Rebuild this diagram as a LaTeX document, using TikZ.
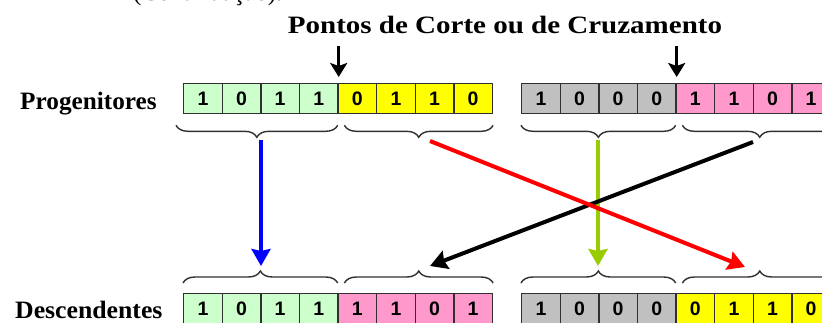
\documentclass[tikz,border=0pt]{standalone}
\usepackage{fontspec}
\setmainfont{Liberation Serif}
\newfontfamily\bitfont{Liberation Sans}
\usetikzlibrary{arrows.meta,decorations.pathreplacing}

\definecolor{cgreen}{HTML}{CCFFCC}
\definecolor{cyellow}{HTML}{FFFF00}
\definecolor{cgray}{HTML}{C0C0C0}
\definecolor{cpink}{HTML}{FF99CC}
\definecolor{lgreen}{HTML}{99CC00}
\definecolor{edge}{HTML}{303030}

\tikzset{
  bitcell/.style={draw=edge, line width=1.3pt, minimum width=38.6pt, minimum height=30pt,
    inner sep=0pt, anchor=north west, font=\bitfont\bfseries\fontsize{19.5}{19.5}\selectfont},
  rowlabel/.style={anchor=base west, inner sep=0pt, font=\bfseries\fontsize{25}{25}\selectfont},
  bracemark/.style={draw=edge, line width=1.4pt, decorate, decoration={brace, amplitude=12pt}},
  cutarrow/.style={line width=3.5pt, -{Stealth[width=17pt,length=14pt,inset=3pt]}},
  geneflow/.style={line width=4pt, -{Stealth[width=19pt,length=17pt,inset=2pt]}},
}

% one chromosome of eight genes: #1 name, #2 x, #3 y, #4 first colour, #5 second colour, #6/#7 bit lists
\newcommand{\chromosome}[7]{%
  \foreach \b [count=\i] in {#6} {
    \node[bitcell, fill=#4] (#1c\i) at ({#2+38.6*(\i-1)}, #3) {\b};
  }
  \foreach \b [count=\i from 5] in {#7} {
    \node[bitcell, fill=#5] (#1c\i) at ({#2+38.6*(\i-1)}, #3) {\b};
  }
}

\begin{document}
\begin{tikzpicture}[x=1pt, y=-1pt]
  \useasboundingbox (0,0) rectangle (822,322);
  \clip (0,0) rectangle (822,322);

  % caption carried over from the previous page
  \node[anchor=base west, inner sep=0pt, font=\fontsize{25}{25}\selectfont] (cont) at (133,0) {(Continuação).};

  % title and row labels
  \node[anchor=base, inner sep=0pt, font=\bfseries\fontsize{25}{25}\selectfont] (title) at (505,33)
    {\scalebox{1.16}[1]{Pontos de Corte ou de Cruzamento}};
  \node[rowlabel] (prog) at (20,109) {\scalebox{1.01}[1]{Progenitores}};
  \node[rowlabel] (desc) at (15,318) {\scalebox{1.03}[1]{Descendentes}};

  % parents
  \chromosome{pa}{183}{83}{cgreen}{cyellow}{1,0,1,1}{0,1,1,0}
  \chromosome{pb}{521}{83}{cgray}{cpink}{1,0,0,0}{1,1,0,1}
  % offspring
  \chromosome{da}{183}{293}{cgreen}{cpink}{1,0,1,1}{1,1,0,1}
  \chromosome{db}{521}{293}{cgray}{cyellow}{1,0,0,0}{0,1,1,0}

  % crossover points
  \coordinate (cutA) at ([yshift=37pt]pac4.north east);
  \coordinate (cutB) at ([yshift=37pt]pbc4.north east);
  \draw[cutarrow] (cutA) -- ([yshift=6pt]pac4.north east);
  \draw[cutarrow] (cutB) -- ([yshift=6pt]pbc4.north east);

  % braces under the parents (tips down)
  \draw[bracemark] ([xshift=-1pt,yshift=-11pt]pac4.south east) -- ([xshift=-7pt,yshift=-11pt]pac1.south west);
  \draw[bracemark] ([xshift=0pt,yshift=-11pt]pac8.south east) -- ([xshift=7pt,yshift=-11pt]pac5.south west);
  \draw[bracemark] ([xshift=-1pt,yshift=-11pt]pbc4.south east) -- ([xshift=0pt,yshift=-11pt]pbc1.south west);
  \draw[bracemark] ([xshift=6pt,yshift=-11pt]pbc8.south east) -- ([xshift=7pt,yshift=-11pt]pbc5.south west);

  % braces over the offspring (tips up)
  \draw[bracemark] ([yshift=10pt]dac1.north west) -- ([xshift=-1pt,yshift=10pt]dac4.north east);
  \draw[bracemark] ([xshift=7pt,yshift=10pt]dac5.north west) -- ([yshift=10pt]dac8.north east);
  \draw[bracemark] ([yshift=10pt]dbc1.north west) -- ([xshift=-1pt,yshift=10pt]dbc4.north east);
  \draw[bracemark] ([xshift=7pt,yshift=10pt]dbc5.north west) -- ([xshift=6pt,yshift=10pt]dbc8.north east);

  % segment end points
  \coordinate (sA1) at (261,140);
  \coordinate (sA2) at (430,141);
  \coordinate (sB1) at (598,140);
  \coordinate (sB2) at (753,142);
  \coordinate (tA1) at (261,266);
  \coordinate (tA2) at (430,266);
  \coordinate (tB1) at (598,266);
  \coordinate (tB2) at (745,267);

  % gene segments passed to the offspring
  \draw[geneflow, blue] (sA1) -- (tA1);
  \draw[geneflow, lgreen] (sB1) -- (tB1);
  \draw[geneflow, black] (sB2) -- (tA2);
  \draw[geneflow, red] (sA2) -- (tB2);
\end{tikzpicture}
\end{document}
